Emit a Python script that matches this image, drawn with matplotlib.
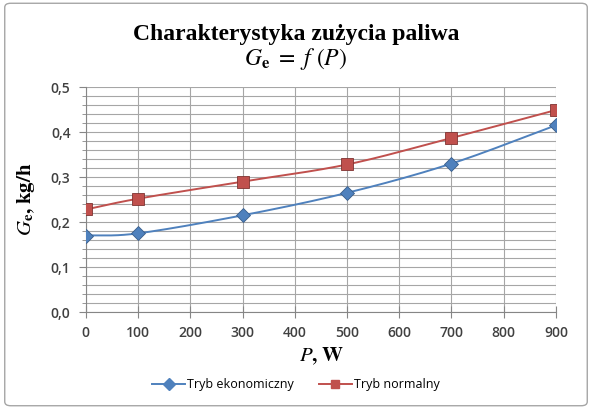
import numpy as np
import matplotlib
matplotlib.use('Agg')
import matplotlib.pyplot as plt
from matplotlib.patches import FancyBboxPatch
from matplotlib.ticker import MultipleLocator, FuncFormatter

# data
power_w = [0, 100, 300, 500, 700, 900]
eco_mode = [0.170, 0.175, 0.215, 0.265, 0.330, 0.415]
normal_mode = [0.228, 0.252, 0.290, 0.328, 0.387, 0.449]

series_names = ["Tryb ekonomiczny", "Tryb normalny"]
blue = '#4F81BD'
red = '#C0504D'

plt.rcParams['mathtext.fontset'] = 'stix'


def smooth(x, y, n=30):
    """Catmull-Rom like curve through the points (Excel 'smoothed line')."""
    x = np.asarray(x, float)
    y = np.asarray(y, float)
    px = np.concatenate([[2 * x[0] - x[1]], x, [2 * x[-1] - x[-2]]])
    py = np.concatenate([[2 * y[0] - y[1]], y, [2 * y[-1] - y[-2]]])
    xs, ys = [], []
    for i in range(1, len(px) - 2):
        t = np.linspace(0, 1, n)
        for p, out in ((px, xs), (py, ys)):
            p0, p1, p2, p3 = p[i - 1], p[i], p[i + 1], p[i + 2]
            out.extend(0.5 * ((2 * p1) + (-p0 + p2) * t
                              + (2 * p0 - 5 * p1 + 4 * p2 - p3) * t ** 2
                              + (-p0 + 3 * p1 - 3 * p2 + p3) * t ** 3))
    return np.array(xs), np.array(ys)


fig = plt.figure(figsize=(5.92, 4.09), dpi=100)
fig.patches.append(FancyBboxPatch((0.008, 0.008), 0.984, 0.984,
                                  boxstyle='round,pad=0,rounding_size=0.01',
                                  transform=fig.transFigure, fill=False,
                                  edgecolor='#a6a6a6', linewidth=1.0))

ax = fig.add_axes([0.145, 0.237, 0.794, 0.550])

for y, name, col, mk in ((eco_mode, series_names[0], blue, 'D'),
                         (normal_mode, series_names[1], red, 's')):
    sx, sy = smooth(power_w, y)
    ax.plot(sx, sy, color=col, lw=1.4, zorder=3)
    ax.plot(power_w, y, linestyle='none', marker=mk, markersize=8 if mk == 's' else 7,
            markerfacecolor=col, markeredgecolor='#7f3331' if mk == 's' else '#385d8a',
            markeredgewidth=0.6, zorder=4)
    ax.plot([], [], color=col, lw=1.4, marker=mk, markersize=6,
            markerfacecolor=col, markeredgecolor=col, label=name)

ax.set_xlim(0, 900)
ax.set_ylim(0, 0.5)
ax.xaxis.set_major_locator(MultipleLocator(100))
ax.yaxis.set_major_locator(MultipleLocator(0.1))
ax.yaxis.set_minor_locator(MultipleLocator(0.02))
ax.yaxis.set_major_formatter(FuncFormatter(lambda v, p: f"{v:.1f}".replace('.', ',')))

ax.grid(True, which='both', axis='y', color='#a6a6a6', lw=0.8)
ax.grid(True, which='major', axis='x', color='#a6a6a6', lw=0.8)
ax.set_axisbelow(True)
for s in ('top', 'right'):
    ax.spines[s].set_visible(False)
ax.spines['left'].set_color('#868686')
ax.spines['bottom'].set_color('#868686')
ax.tick_params(axis='both', which='major', length=5, color='#868686',
               labelsize=10, labelcolor='#404040', pad=6)
ax.tick_params(axis='y', which='minor', length=3, color='#868686')
ax.tick_params(axis='x', direction='inout', length=8)
for lab in ax.get_xticklabels() + ax.get_yticklabels():
    lab.set_fontfamily('Open Sans')
    lab.set_fontweight('semibold')

fig.text(0.5, 0.915, "Charakterystyka zużycia paliwa", ha='center', va='center',
         fontsize=17, fontweight='bold', family='Liberation Serif')
fig.text(0.5, 0.855, r"$G_\mathbf{e}\ =\ f\ (P)$", ha='center', va='center', fontsize=17)

ax.set_ylabel(r"$\mathbf{\mathit{G}}_\mathbf{e}\mathbf{,}\;\mathbf{kg/h}$", fontsize=15, labelpad=10)
ax.set_xlabel(r"$\mathbf{\mathit{P}}\mathbf{,}\;\mathbf{W}$", fontsize=15, labelpad=4)

fig.legend(loc='center', bbox_to_anchor=(0.5, 0.06), ncol=2, frameon=False,
           prop={'family': 'Open Sans', 'size': 9}, handlelength=2.6,
           columnspacing=2.0, handletextpad=0.2)

fig.savefig('out.png', dpi=100)
